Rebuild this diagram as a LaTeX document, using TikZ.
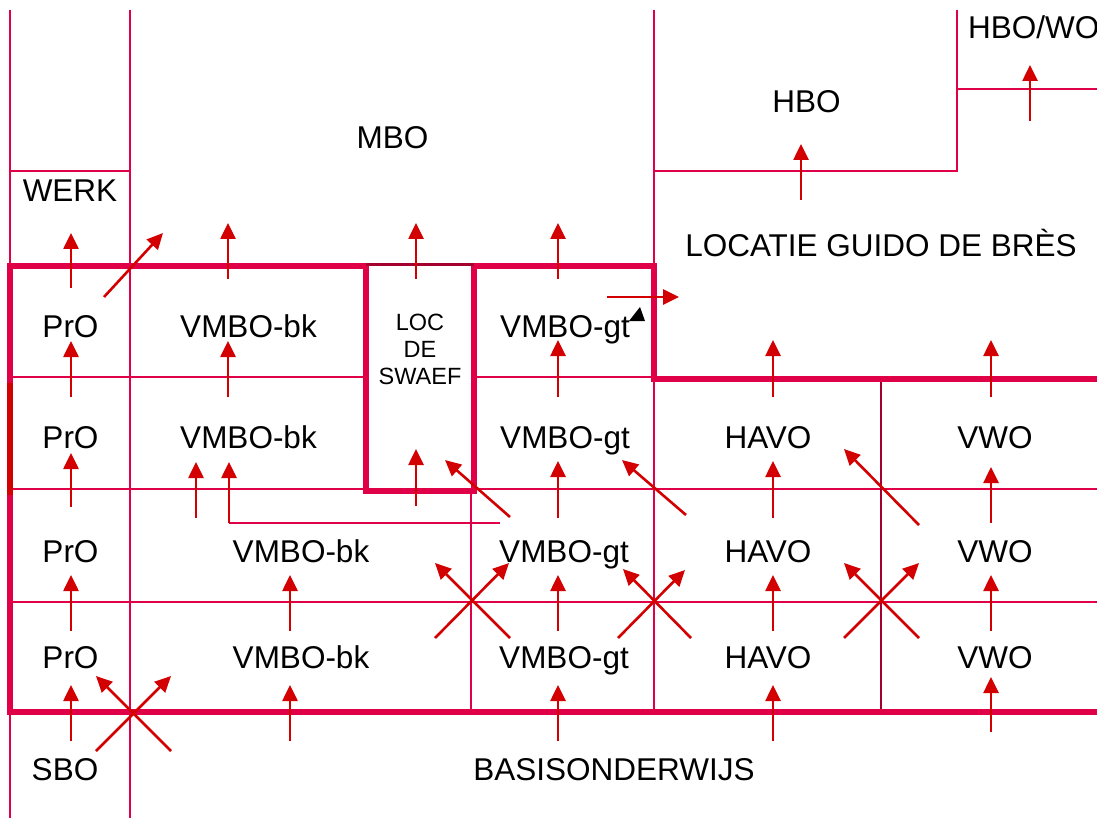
\documentclass[tikz,border=0pt]{standalone}
\usepackage{fontspec}
\setmainfont{Liberation Sans}
\usetikzlibrary{arrows.meta}
\definecolor{gridc}{RGB}{224,0,72}
\definecolor{arrc}{RGB}{210,0,0}
\definecolor{darkc}{RGB}{165,0,45}
\tikzset{
  gline/.style={draw=gridc, line width=2pt},
  tline/.style={draw=gridc, line width=6pt, line join=miter, line cap=rect},
  arl/.style={draw=arrc, line width=2.6pt, -{Triangle[length=16pt,width=15pt]}},
  plainl/.style={draw=arrc, line width=2.6pt},
  lbl/.style={font=\fontsize{31.5}{36}\selectfont, anchor=base, inner sep=0pt},
  slbl/.style={font=\fontsize{23.5}{27}\selectfont, align=center, anchor=base, inner sep=0pt},
}
\begin{document}
\begin{tikzpicture}[x=1pt,y=-1pt]
\useasboundingbox (0,0) rectangle (1097,818);
\fill[white] (0,0) rectangle (1097,818);

% thin grid lines
\draw[gline] (10,10) -- (10,266);
\draw[gline] (10,712) -- (10,818);
\draw[gline] (130,10) -- (130,818);
\draw[gline] (10,171) -- (130,171);
\draw[gline] (654,10) -- (654,266);
\draw[gline] (654,379) -- (654,712);
\draw[gline] (654,171) -- (957,171) -- (957,10);
\draw[gline] (957,89) -- (1097,89);
\draw[gline] (10,377) -- (366,377);
\draw[gline] (474,377) -- (654,377);
\draw[gline] (10,489) -- (1097,489);
\draw[gline] (10,602) -- (1097,602);
\draw[gline] (471,491) -- (471,712);
\draw[draw=darkc, line width=2pt] (881,379) -- (881,712);
\draw[gline, line width=1.6pt] (229,523) -- (500,523);

% thick lines
\draw[tline] (366,266) -- (10,266) -- (10,712) -- (1097,712);
\draw[tline] (474,266) -- (654,266) -- (654,379) -- (1097,379);
\draw[tline] (366,266) -- (366,491) -- (474,491) -- (474,266);
\draw[draw=darkc, line width=3pt] (366,265) -- (474,265);
\draw[draw=arrc, line width=6pt] (10,383) -- (10,495);

% labels
\node[lbl] (werk) at (70,202) {WERK};
\node[lbl] (mbo) at (392.5,149) {MBO};
\node[lbl] (hbo) at (806.5,113) {HBO};
\node[lbl, anchor=base west] (hbowo) at (968,39) {HBO/WO};
\node[lbl] (guido) at (881,257) {LOCATIE GUIDO DE BRÈS};

\node[lbl] (pro1) at (70.5,337) {PrO};
\node[lbl] (bk1) at (248.5,337) {VMBO-bk};
\node[slbl] (swaef) at (420,384) {LOC\\DE\\SWAEF};
\node[lbl] (gt1) at (565,337) {VMBO-gt};

\node[lbl] (pro2) at (70.5,448) {PrO};
\node[lbl] (bk2) at (248.5,448) {VMBO-bk};
\node[lbl] (gt2) at (565,448) {VMBO-gt};
\node[lbl] (havo2) at (768,448) {HAVO};
\node[lbl] (vwo2) at (995,448) {VWO};

\node[lbl] (pro3) at (70.5,562) {PrO};
\node[lbl] (bk3) at (301,562) {VMBO-bk};
\node[lbl] (gt3) at (564,562) {VMBO-gt};
\node[lbl] (havo3) at (768,562) {HAVO};
\node[lbl] (vwo3) at (995,562) {VWO};

\node[lbl] (pro4) at (70.5,668) {PrO};
\node[lbl] (bk4) at (301,668) {VMBO-bk};
\node[lbl] (gt4) at (564,668) {VMBO-gt};
\node[lbl] (havo4) at (768,668) {HAVO};
\node[lbl] (vwo4) at (995,668) {VWO};

\node[lbl] (sbo) at (65,780) {SBO};
\node[lbl] (basis) at (614,780) {BASISONDERWIJS};

% small black triangle
\fill[black] (629,321) -- (645,321) -- (640,307) -- cycle;

% arrows top row
\draw[arl] (71,288) -- (71,233);
\draw[arl] (104,297) -- (163,233);
\draw[arl] (228,279) -- (228,223);
\draw[arl] (416,279) -- (416,223);
\draw[arl] (558,279) -- (558,223);
\draw[arl] (607,297) -- (679,297);
\draw[arl] (801,200) -- (801,144);
\draw[arl] (1030,121) -- (1030,65);

% row 1
\draw[arl] (71,397) -- (71,341);
\draw[arl] (228,397) -- (228,341);
\draw[arl] (558,397) -- (558,340);
\draw[arl] (773,397) -- (773,340);
\draw[arl] (991,397) -- (991,340);

% row 2
\draw[arl] (71,507) -- (71,453);
\draw[arl] (196,518) -- (196,462);
\draw[arl] (229,523) -- (229,462);
\draw[arl] (416,506) -- (416,449);
\draw[arl] (510,517) -- (445,460);
\draw[arl] (558,518) -- (558,461);
\draw[arl] (686,515) -- (622,460);
\draw[arl] (773,518) -- (773,461);
\draw[arl] (919,525) -- (844,449);
\draw[arl] (991,523) -- (991,467);

% row 3
\draw[arl] (71,631) -- (71,575);
\draw[arl] (290,631) -- (290,575);
\draw[arl] (435,638) -- (509,563);
\draw[arl] (510,638) -- (435,563);
\draw[arl] (558,631) -- (558,575);
\draw[arl] (618,638) -- (685,570);
\draw[arl] (691,638) -- (623,569);
\draw[arl] (773,631) -- (773,575);
\draw[arl] (844,638) -- (919,563);
\draw[arl] (919,638) -- (844,563);
\draw[arl] (991,631) -- (991,575);

% row 4
\draw[arl] (71,741) -- (71,685);
\draw[arl] (96,751) -- (171,676);
\draw[arl] (171,751) -- (96,676);
\draw[arl] (290,741) -- (290,685);
\draw[arl] (558,741) -- (558,685);
\draw[arl] (773,741) -- (773,685);
\draw[arl] (991,732) -- (991,677);
\end{tikzpicture}
\end{document}
